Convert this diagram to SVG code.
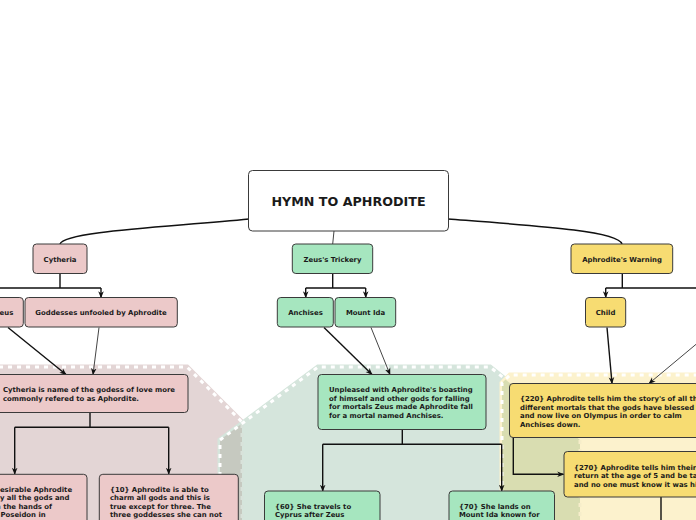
<svg xmlns="http://www.w3.org/2000/svg" width="696" height="520" viewBox="0 0 696 520">
<defs>
<marker id="arr" viewBox="0 0 10 10" refX="9" refY="5" markerWidth="7" markerHeight="7" markerUnits="userSpaceOnUse" orient="auto"><path d="M0,1 L10,5 L0,9 L3,5 z" fill="#111"/></marker>
</defs>
<style>
.t{font-family:"DejaVu Sans",Verdana,sans-serif;font-weight:bold;font-size:6.9px;fill:#1a1a1a}
.c{text-anchor:middle}
.n{stroke:#3a3a3a;stroke-width:1}
.pk{fill:#ecc9c9}.gr{fill:#a6e6bf}.yl{fill:#f7dc72}
.ln{fill:none;stroke:#111;stroke-width:1.4}
.lg{fill:none;stroke:#454545;stroke-width:1}
.bd{fill:none;stroke:#fff;stroke-width:3;stroke-dasharray:4 5}
</style>
<rect width="696" height="520" fill="#fff"/>
<g id="regions">
<path d="M-10,367 H187 L242,422 V530 H-10 Z" fill="#e3d5d5" stroke="#e3d5d5" stroke-width="5"/>
<path d="M220,530 V440 L318,367 H490 L580,440 V530 Z" fill="#d5e5dc" stroke="#d5e5dc" stroke-width="5"/>
<path d="M502,530 V383 L510,375 H706 V530 Z" fill="#fcf2cd" stroke="#fcf2cd" stroke-width="5"/>
<path d="M220,440 L242,423.6 V530 H220 Z" fill="#c6c9c0"/>
<path d="M502,383 L505.5,379.5 L580,440 V530 H502 Z" fill="#d9ddb1"/>
<path class="bd" d="M-10,367 H187 L242,422"/>
<path class="bd" d="M242,424 V530" style="stroke:#d8e2da"/>
<path class="bd" d="M220,530 V440 L318,367 H490 L505,379"/>
<path class="bd" d="M580,440 V530" style="stroke:#f6edca"/>
<path class="bd" d="M502,530 V383 L510,375 H706"/>
</g>
<g id="connectors">
<path class="ln" d="M249,219 C170,227 64,231 60,244" style="stroke-width:1.5"/>
<path class="lg" d="M334,231 L332.7,244"/>
<path class="ln" d="M448,219 C540,226 618,231 622,244" style="stroke-width:1.5"/>
<path class="ln" d="M60,273.5 V288 M-5,288 H101"/>
<path class="ln" d="M101,288 V297.5" marker-end="url(#arr)"/>
<path class="ln" d="M332.7,273.5 V288 M305.7,288 H365.7"/>
<path class="ln" d="M305.7,288 V297.5" marker-end="url(#arr)"/>
<path class="ln" d="M365.7,288 V297.5" marker-end="url(#arr)"/>
<path class="ln" d="M622.3,273.5 V288 M605.7,288 H700"/>
<path class="ln" d="M605.7,288 V297.5" marker-end="url(#arr)"/>
<path class="ln" d="M8,327.5 L66,374.5" marker-end="url(#arr)"/>
<path class="lg" d="M99,327.5 L93,374.5" marker-end="url(#arr)"/>
<path class="ln" d="M324,327.5 L372,374.5" marker-end="url(#arr)"/>
<path class="lg" d="M371,327.5 L390,374.5" marker-end="url(#arr)"/>
<path class="ln" d="M607,327.5 L612,383.5" marker-end="url(#arr)"/>
<path class="lg" d="M700,341 L649,383.5" marker-end="url(#arr)"/>
<path class="ln" d="M90,412.5 V427.3 M14.7,427.3 H168.7"/>
<path class="ln" d="M14.7,427.3 V474" marker-end="url(#arr)"/>
<path class="ln" d="M168.7,427.3 V474" marker-end="url(#arr)"/>
<path class="ln" d="M402.3,429.5 V444.3 M322.7,444.3 H501.7"/>
<path class="ln" d="M322.7,444.3 V491" marker-end="url(#arr)"/>
<path class="ln" d="M501.7,444.3 V491" marker-end="url(#arr)"/>
<path class="ln" d="M513.3,437.5 V474.3 H563.5" marker-end="url(#arr)"/>
<path class="ln" d="M661,497 V520"/>
</g>
<g id="root">
<rect x="248.5" y="170.5" width="200" height="60.5" rx="4" fill="#fff" class="n"/>
<text x="348.5" y="206" class="t c" style="font-size:12.7px">HYMN TO APHRODITE</text>
</g>
<g id="cytheria">
<rect x="33" y="244" width="54" height="29.5" rx="3.5" class="n pk"/>
<text x="60" y="261.5" class="t c">Cytheria</text>
</g>
<g id="zeus-trickery">
<rect x="292.3" y="244" width="80.4" height="29.5" rx="3.5" class="n gr"/>
<text x="332.5" y="261.5" class="t c">Zeus's Trickery</text>
</g>
<g id="aphrodite-warning">
<rect x="571" y="244" width="101.7" height="29.5" rx="3.5" class="n yl"/>
<text x="622" y="261.5" class="t c">Aphrodite's Warning</text>
</g>
<g id="zeus">
<rect x="-40" y="297.5" width="63.3" height="29.5" rx="3.5" class="n pk"/>
<text x="13.3" y="315" class="t" text-anchor="end">Zeus</text>
</g>
<g id="goddesses">
<rect x="25" y="297.5" width="152.3" height="29.5" rx="3.5" class="n pk"/>
<text x="101" y="315" class="t c">Goddesses unfooled by Aphrodite</text>
</g>
<g id="anchises">
<rect x="277.3" y="297.5" width="56" height="29.5" rx="3.5" class="n gr"/>
<text x="305.5" y="315" class="t c">Anchises</text>
</g>
<g id="mount-ida">
<rect x="335" y="297.5" width="60.7" height="29.5" rx="3.5" class="n gr"/>
<text x="365.5" y="315" class="t c">Mount Ida</text>
</g>
<g id="child">
<rect x="585.5" y="297.5" width="40.2" height="29.5" rx="3.5" class="n yl"/>
<text x="605.6" y="315" class="t c">Child</text>
</g>
<g id="cytheria-name">
<rect x="-10" y="374.5" width="198" height="38" rx="3.5" class="n pk"/>
<text class="t"><tspan x="3" y="392">Cytheria is name of the godess of love more</tspan><tspan x="3" y="400.8">commonly refered to as Aphordite.</tspan></text>
</g>
<g id="desirable">
<rect x="-40" y="474.3" width="127" height="60" rx="3.5" class="n pk"/>
<text class="t"><tspan x="-5" y="491.5">desirable Aphrodite</tspan><tspan x="-5" y="500">by all the gods and</tspan><tspan x="-6.5" y="508.5">in the hands of</tspan><tspan x="0.5" y="517">Poseidon in</tspan></text>
</g>
<g id="n10">
<rect x="99.3" y="474.3" width="139" height="60" rx="3.5" class="n pk"/>
<text class="t"><tspan x="110" y="491.5">{10} Aphrodite is able to</tspan><tspan x="110" y="500">charm all gods and this is</tspan><tspan x="110" y="508.5">true except for three. The</tspan><tspan x="110" y="517">three goddesses she can not</tspan></text>
</g>
<g id="unpleased">
<rect x="318" y="374.5" width="168" height="55" rx="3.5" class="n gr"/>
<text class="t"><tspan x="329" y="392">Unpleased with Aphrodite's boasting</tspan><tspan x="329" y="400.7">of himself and other gods for falling</tspan><tspan x="329" y="409.4">for mortals Zeus made Aphrodite fall</tspan><tspan x="329" y="418">for a mortal named Anchises.</tspan></text>
</g>
<g id="n60">
<rect x="264.5" y="491" width="115.5" height="40" rx="3.5" class="n gr"/>
<text class="t"><tspan x="275" y="509">{60} She travels to</tspan><tspan x="275" y="517.3">Cyprus after Zeus</tspan></text>
</g>
<g id="n70">
<rect x="449" y="491" width="105.5" height="40" rx="3.5" class="n gr"/>
<text class="t"><tspan x="459" y="509">{70} She lands on</tspan><tspan x="459" y="517.3">Mount Ida known for</tspan></text>
</g>
<g id="n220">
<rect x="509.5" y="383.5" width="200" height="54" rx="3.5" class="n yl"/>
<text class="t"><tspan x="520" y="401">{220} Aphrodite tells him the story's of all the</tspan><tspan x="520" y="409.5">different mortals that the gods have blessed</tspan><tspan x="520" y="418">and now live on Olympus in order to calm</tspan><tspan x="520" y="426.5">Anchises down.</tspan></text>
</g>
<g id="n270">
<rect x="564" y="451.5" width="145" height="45.5" rx="3.5" class="n yl"/>
<text class="t"><tspan x="574" y="469.5">{270} Aphrodite tells him their</tspan><tspan x="574" y="478">return at the age of 5 and be taken</tspan><tspan x="574" y="486.5">and no one must know it was his</tspan></text>
</g>
</svg>
